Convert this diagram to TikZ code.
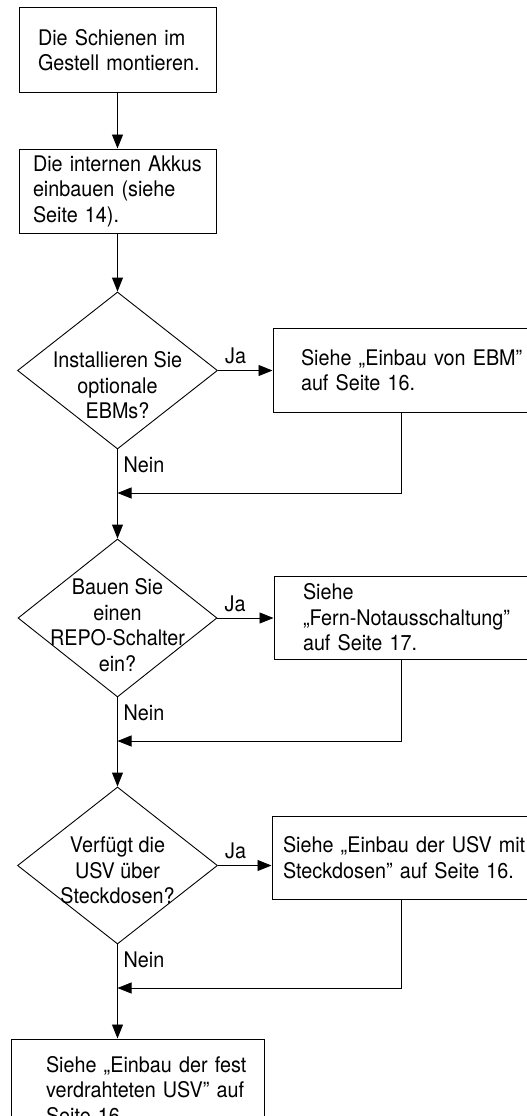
\documentclass[tikz,border=0pt]{standalone}
\usepackage{fontspec}
\setmainfont{TeX Gyre Heros}[FakeStretch=0.92]
\usepackage{tikz}
\usetikzlibrary{shapes.geometric,arrows.meta}

\tikzset{
  stepbox/.style={draw, line width=1pt, rectangle, align=left, inner ysep=0pt, font=\fontsize{21.5}{25.5}\selectfont},
  decision/.style={draw, line width=0.9pt, diamond, inner sep=0pt},
  dtext/.style={align=center, inner sep=0pt, font=\fontsize{21.5}{25.5}\selectfont},
  lbl/.style={inner sep=0pt, font=\fontsize{21.5}{25.5}\selectfont},
  flow/.style={line width=0.9pt, -{Triangle[length=14pt,width=11pt]}}
}

\begin{document}
\begin{tikzpicture}[x=1pt,y=-1pt]
\useasboundingbox (0,0) rectangle (527,1116);
\clip (0,0) rectangle (527,1116);
% main column
\node[stepbox, minimum height=84pt, text width=159pt, inner xsep=19pt] (rails) at (117.5,50) {\mbox{Die Schienen im}\\\mbox{Gestell montieren.}};
\node[stepbox, minimum height=84pt, text width=169pt, inner xsep=14pt] (akkus) at (117.5,191) {\mbox{Die internen Akkus}\\\mbox{einbauen (siehe}\\\mbox{Seite 14).}};
\node[decision, minimum width=200pt, minimum height=157pt] (q1) at (117.5,370.5) {};
\node[dtext] (q1txt) at ([yshift=-15pt]q1.center) {Installieren Sie\\optionale\\EBMs?};
\node[decision, minimum width=199pt, minimum height=158pt] (q2) at (117.5,618) {};
\node[dtext] (q2txt) at ([yshift=-7pt]q2.center) {Bauen Sie\\einen\\REPO-Schalter\\ein?};
\node[decision, minimum width=200pt, minimum height=157pt] (q3) at (117.5,865.5) {};
\node[dtext] (q3txt) at ([yshift=-5pt]q3.center) {Verfügt die\\USV über\\Steckdosen?};
\node[stepbox, minimum height=102pt, text width=183pt, inner xsep=35pt] (fest) at (137.5,1090) {\mbox{Siehe „Einbau der fest}\\\mbox{verdrahteten USV” auf}\\\mbox{Seite 16.}};
% side column
\node[stepbox, minimum height=84pt, text width=201pt, inner xsep=28pt] (ebm) at (401.5,370) {\mbox{Siehe „Einbau von EBM”}\\\mbox{auf Seite 16.}};
\node[stepbox, minimum height=83pt, text width=197pt, inner xsep=29pt] (repo) at (401.5,617.5) {\mbox{Siehe}\\\mbox{„Fern-Notausschaltung”}\\\mbox{auf Seite 17.}};
\node[stepbox, minimum height=83pt, text width=237pt, inner xsep=11pt] (dosen) at (401.5,857.5) {\mbox{Siehe „Einbau der USV mit}\\\mbox{Steckdosen” auf Seite 16.}};
% joins
\coordinate (j1) at (117.5,493);
\coordinate (j2) at (117.5,741);
\coordinate (j3) at (117.5,988);

\draw[flow] (rails) -- (akkus);
\draw[flow] (akkus) -- (q1.north);
\draw[flow] (q1.east) -- (q1.east -| ebm.west);
\draw[flow] (ebm.south) |- (j1);
\draw[flow] (q1.south) -- (q2.north);
\draw[flow] (q2.east) -- (q2.east -| repo.west);
\draw[flow] (repo.south) |- (j2);
\draw[flow] (q2.south) -- (q3.north);
\draw[flow] (q3.east) -- (q3.east -| dosen.west);
\draw[flow] (dosen.south) |- (j3);
\draw[flow] (q3.south) -- (q3.south |- fest.north);

\node[lbl, anchor=base west] (ja1) at ([xshift=7pt,yshift=7pt]q1.east) {Ja};
\node[lbl, anchor=base west] (nein1) at ([xshift=6pt,yshift=-23pt]q1.south) {Nein};
\node[lbl, anchor=base west] (ja2) at ([xshift=7pt,yshift=7pt]q2.east) {Ja};
\node[lbl, anchor=base west] (nein2) at ([xshift=6pt,yshift=-23pt]q2.south) {Nein};
\node[lbl, anchor=base west] (ja3) at ([xshift=7pt,yshift=7pt]q3.east) {Ja};
\node[lbl, anchor=base west] (nein3) at ([xshift=6pt,yshift=-23pt]q3.south) {Nein};
\end{tikzpicture}
\end{document}
